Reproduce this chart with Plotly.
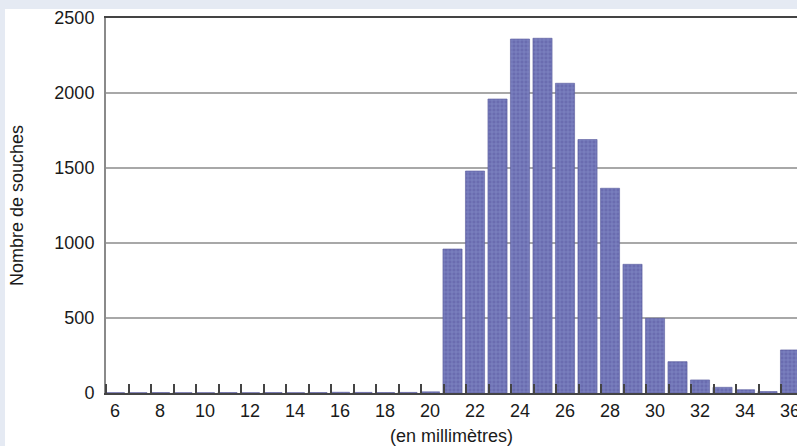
import plotly.graph_objects as go

# Data
sizes_mm = list(range(6, 37))
counts = [2, 2, 3, 2, 2, 3, 2, 3, 2, 3, 5, 4, 3, 4, 8,
          960, 1480, 1960, 2360, 2365, 2065, 1690, 1365, 858, 498,
          209, 87, 38, 22, 10, 287]
y_tick_vals = [0, 500, 1000, 1500, 2000, 2500]

FONT = "Liberation Sans, Arial, sans-serif"

fig = go.Figure()
fig.add_trace(go.Bar(
    x=sizes_mm, y=counts, width=0.85,
    marker=dict(
        color="#6a6cb0",
        line=dict(color="#5a5c9e", width=0.6),
        pattern=dict(shape="+", fgcolor="#96a3da", size=4, solidity=0.35),
    ),
    hoverinfo="x+y",
))

fig.update_layout(
    width=797, height=446,
    margin=dict(l=106, r=0, t=18, b=53, autoexpand=False),
    paper_bgcolor="#e5eaf3",
    plot_bgcolor="white",
    showlegend=False,
    font=dict(family=FONT, size=18, color="#1a1a1a"),
    shapes=[
        dict(type="rect", xref="paper", yref="paper",
             x0=(5 - 106) / 691, x1=1.2, y0=(393 - 470) / 375, y1=(393 - 9) / 375,
             fillcolor="white", line=dict(width=0), layer="below"),
    ],
)

fig.update_xaxes(
    automargin=False,
    range=[5.6, 36.31],
    tickmode="linear", tick0=6, dtick=2,
    ticks="", showgrid=False,
    showline=True, mirror=True, linecolor="#444", linewidth=2,
    tickfont=dict(size=18),
    ticklabeloverflow="allow",
    minor=dict(ticks="inside", tick0=5.6, dtick=1, ticklen=9,
               tickcolor="#444", tickwidth=1.5, showgrid=False),
    title=dict(text="(en millimètres)", font=dict(size=18), standoff=10),
    zeroline=False,
)
fig.update_yaxes(
    automargin=False,
    range=[0, 2500],
    tickvals=y_tick_vals,
    ticks="", showgrid=True, gridcolor="#a8a8a8", gridwidth=2,
    showline=True, linecolor="#8a8a8a", linewidth=2,
    zeroline=False,
    tickfont=dict(size=18),
    ticklabelstandoff=6,
    title=dict(text="Nombre de souches", font=dict(size=18), standoff=26),
)

fig.write_html(
    "out.html",
    config={"displayModeBar": False},
    post_script="document.body.style.margin='0';document.body.style.overflow='hidden';",
)
